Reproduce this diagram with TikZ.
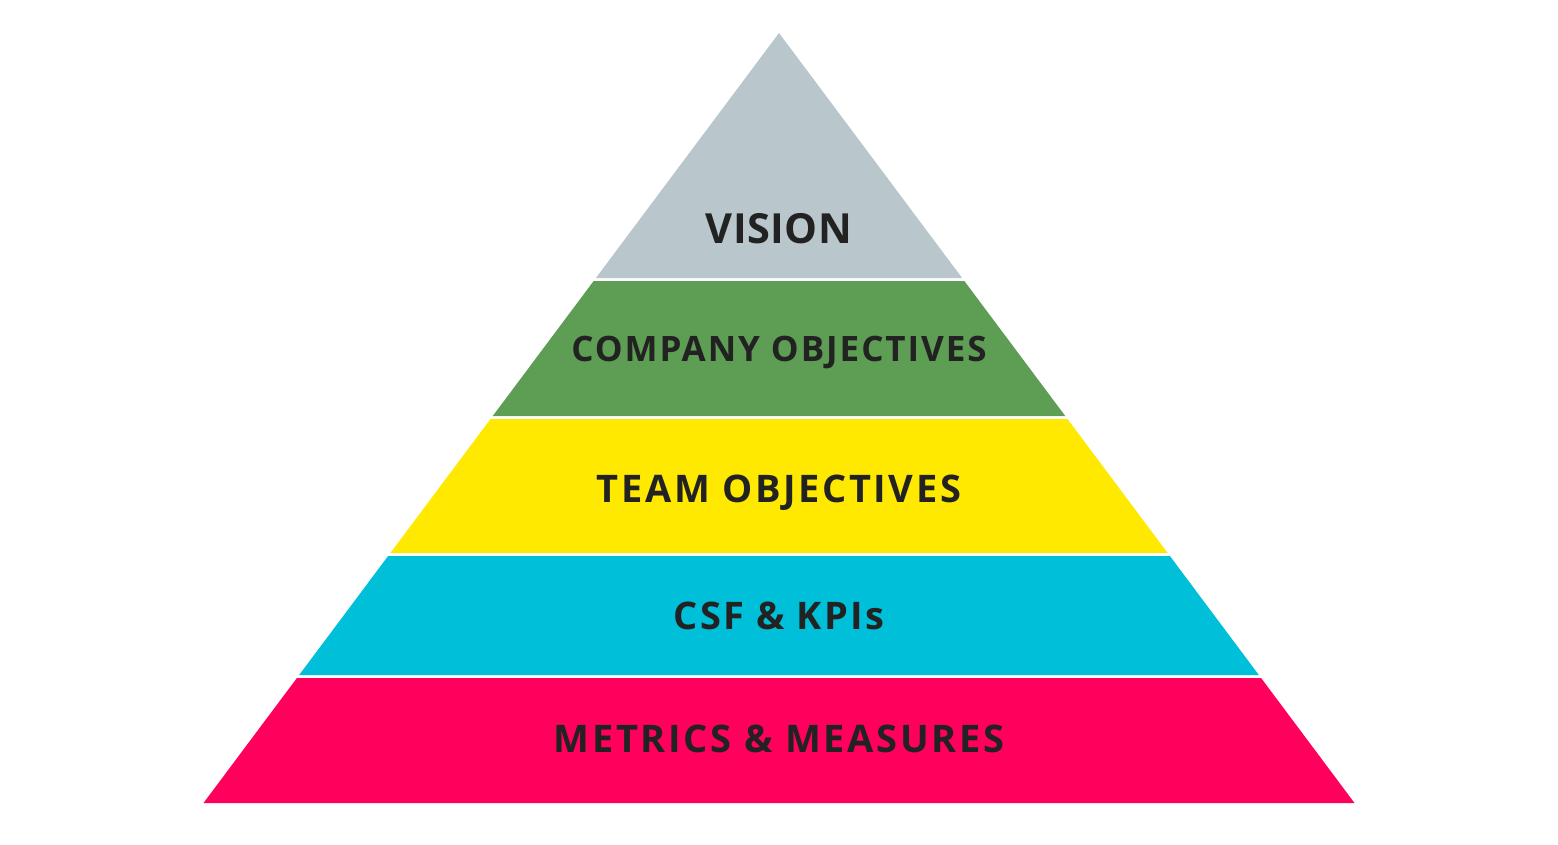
\documentclass[tikz,border=0pt]{standalone}
\usepackage{fontspec}
\setmainfont{Open Sans}
\newfontfamily\layerfont{Open Sans}
\definecolor{vision-gray}{HTML}{B9C6CC}
\definecolor{company-green}{HTML}{5E9D54}
\definecolor{team-yellow}{HTML}{FFE900}
\definecolor{csf-cyan}{HTML}{00BFD8}
\definecolor{metric-pink}{HTML}{FF005D}
\definecolor{label-dark}{HTML}{222222}
\usetikzlibrary{positioning}

\begin{document}
\begin{tikzpicture}[
  x=1pt, y=-1pt,
  lbl/.style n args={2}{font=\layerfont\bfseries\fontsize{#1}{#1}\selectfont\addfontfeatures{LetterSpace=#2},
              text=label-dark, inner sep=0pt, anchor=base}
]
  \useasboundingbox (0,0) rectangle (1558,844);

  % layers: top / bottom / colour (apex at 779,33)
  \foreach \ytop/\ybot/\col in {33/278/vision-gray, 281/416/company-green,
      419/553/team-yellow, 556/675/csf-cyan, 678/803/metric-pink}{
    \pgfmathsetmacro\tl{779-0.7474*(\ytop-33)}
    \pgfmathsetmacro\tr{779+0.7474*(\ytop-33)}
    \pgfmathsetmacro\bl{779-0.7474*(\ybot-33)}
    \pgfmathsetmacro\br{779+0.7474*(\ybot-33)}
    \fill[\col] (\tl,\ytop) -- (\tr,\ytop) -- (\br,\ybot) -- (\bl,\ybot) -- cycle;
  }

  % labels
  \node[lbl={41.5}{1}] (vision)  at (779,243) {VISION};
  \node[lbl={35}{5.5}] (company) at (779,361) {COMPANY OBJECTIVES};
  \node[lbl={38}{6.8}] (team)    at (779,502) {TEAM OBJECTIVES};
  \node[lbl={38}{6}]   (csf)     at (779,629) {CSF \& KPIs};
  \node[lbl={38}{7}]   (metrics) at (779,752) {METRICS \& MEASURES};
\end{tikzpicture}
\end{document}
